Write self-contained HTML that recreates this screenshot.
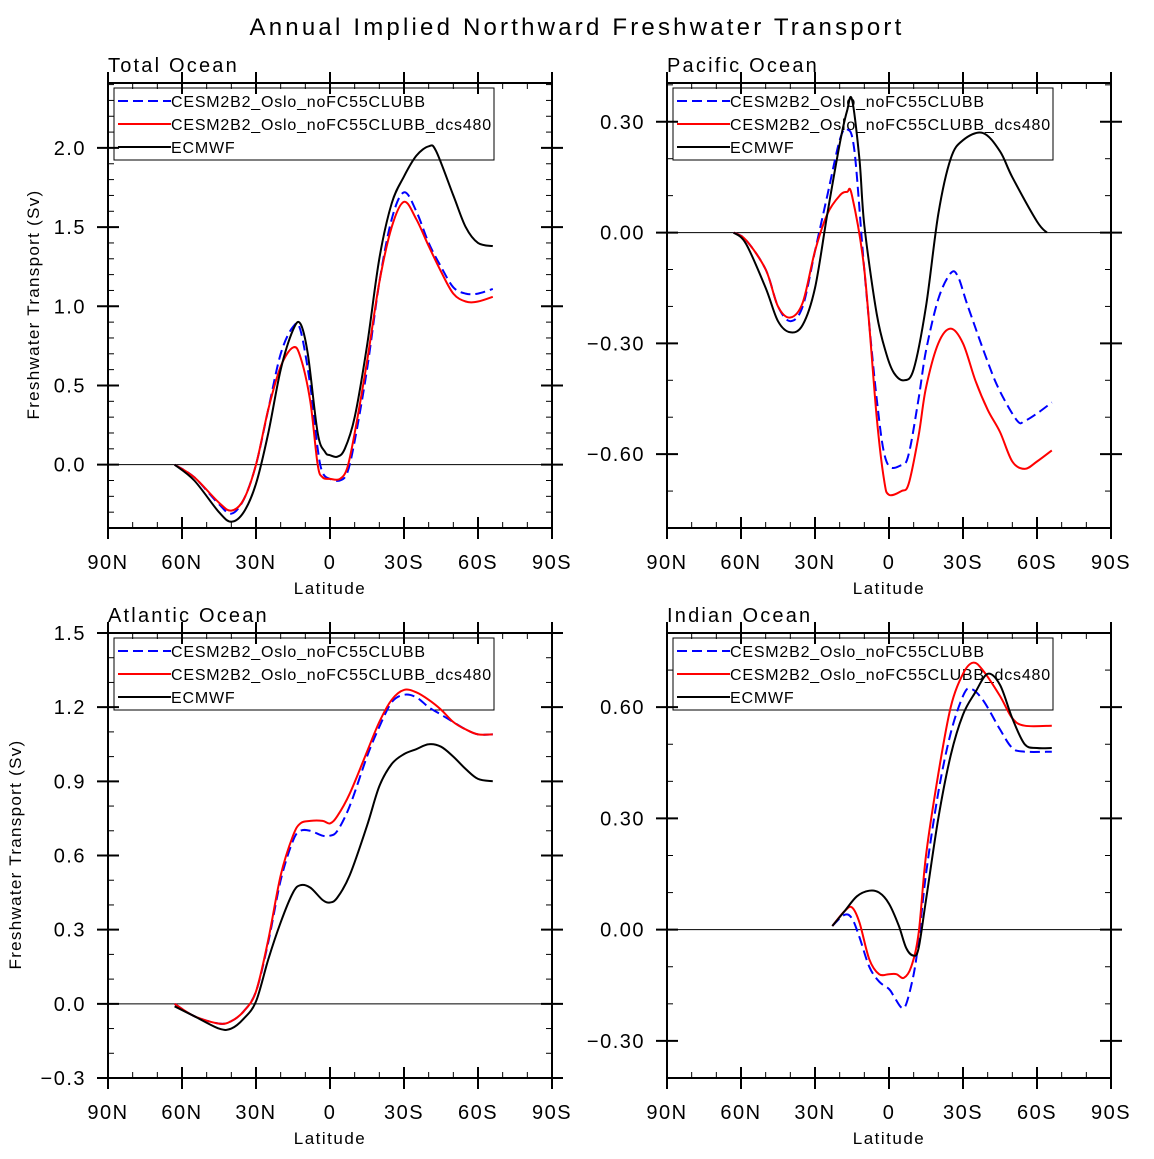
<!DOCTYPE html>
<html><head><meta charset="utf-8"><style>
body{margin:0;background:#fff;}
svg text{font-family:"Liberation Sans",sans-serif;fill:#000;}
</style></head><body>
<svg id="fig" width="1154" height="1154" viewBox="0 0 1154 1154" xmlns="http://www.w3.org/2000/svg">
<rect width="1154" height="1154" fill="#fff"/>
<text x="577" y="35" font-size="24" text-anchor="middle" letter-spacing="3.2">Annual Implied Northward Freshwater Transport</text>
</svg>
<script>
const seriesNames=["CESM2B2_Oslo_noFC55CLUBB","CESM2B2_Oslo_noFC55CLUBB_dcs480","ECMWF"];
const xTickLats=[90,60,30,0,-30,-60,-90];
const xTickLabels=["90N","60N","30N","0","30S","60S","90S"];

const totLatB=[63,55,45,40,35,30,25,20,15,12,8,5,3,0,-4,-7,-10,-15,-20,-25,-30,-35,-40,-45,-50,-55,-60,-66];
const totB=[0,-0.08,-0.25,-0.31,-0.22,0,0.35,0.7,0.87,0.85,0.5,0.1,-0.05,-0.09,-0.1,-0.05,0.15,0.6,1.15,1.55,1.72,1.6,1.4,1.25,1.12,1.08,1.08,1.11];
const totR=[0,-0.08,-0.24,-0.29,-0.22,0,0.35,0.62,0.74,0.68,0.4,0.0,-0.08,-0.09,-0.09,-0.02,0.2,0.65,1.15,1.5,1.66,1.55,1.38,1.22,1.08,1.03,1.03,1.06];
const totLatK=[63,55,45,40,35,30,25,20,15,12,9,5,2,0,-3,-6,-10,-15,-20,-25,-30,-35,-40,-43,-50,-55,-60,-66];
const totK=[0,-0.1,-0.3,-0.36,-0.3,-0.12,0.2,0.6,0.85,0.89,0.7,0.2,0.08,0.06,0.05,0.1,0.3,0.75,1.3,1.65,1.82,1.95,2.01,1.98,1.7,1.5,1.4,1.38];

const pacLatB=[63,58,50,45,40,35,30,25,20,17,14,10,5,1,-5,-8,-12,-15,-20,-25,-28,-32,-40,-45,-52,-55,-60,-66];
const pacB=[0,-0.02,-0.1,-0.2,-0.24,-0.2,-0.05,0.1,0.25,0.28,0.22,-0.1,-0.45,-0.62,-0.63,-0.6,-0.45,-0.32,-0.18,-0.11,-0.12,-0.2,-0.35,-0.43,-0.51,-0.51,-0.49,-0.46];
const pacLatR=[63,58,50,45,40,35,30,25,20,17,15,10,5,2,0,-5,-8,-12,-15,-20,-25,-30,-35,-40,-45,-50,-55,-60,-66];
const pacR=[0,-0.02,-0.1,-0.2,-0.23,-0.19,-0.05,0.05,0.1,0.11,0.1,-0.1,-0.5,-0.67,-0.71,-0.7,-0.68,-0.55,-0.42,-0.3,-0.26,-0.3,-0.4,-0.48,-0.54,-0.62,-0.64,-0.62,-0.59];
const pacLatK=[63,58,50,45,40,35,30,25,20,17,15,12,10,5,1,-2,-6,-10,-15,-20,-25,-30,-38,-45,-50,-60,-64];
const pacK=[0,-0.03,-0.15,-0.24,-0.27,-0.25,-0.15,0.05,0.24,0.33,0.36,0.2,0.02,-0.22,-0.33,-0.38,-0.4,-0.37,-0.2,0.05,0.2,0.25,0.27,0.22,0.15,0.03,0.0];

const atlLat=[63,55,45,40,35,30,25,20,15,12,8,3,0,-3,-8,-15,-20,-25,-30,-35,-40,-45,-50,-55,-60,-66];
const atlB=[0,-0.05,-0.08,-0.07,-0.03,0.05,0.25,0.5,0.66,0.7,0.7,0.68,0.68,0.7,0.8,1.0,1.12,1.22,1.25,1.24,1.2,1.17,1.14,1.11,1.09,1.09];
const atlR=[0,-0.05,-0.08,-0.07,-0.03,0.05,0.26,0.52,0.68,0.73,0.74,0.74,0.73,0.76,0.85,1.02,1.14,1.23,1.27,1.26,1.23,1.19,1.14,1.11,1.09,1.09];
const atlK=[-0.01,-0.05,-0.1,-0.1,-0.06,0.01,0.18,0.33,0.45,0.48,0.47,0.42,0.41,0.43,0.52,0.72,0.88,0.97,1.01,1.03,1.05,1.04,1.0,0.95,0.91,0.9];

const indLatB=[23,18,15,12,8,4,0,-2,-5,-7,-10,-12,-15,-20,-25,-30,-33,-38,-45,-50,-55,-66];
const indB=[0.01,0.04,0.03,-0.02,-0.1,-0.14,-0.16,-0.18,-0.21,-0.2,-0.12,-0.03,0.15,0.37,0.53,0.63,0.65,0.62,0.54,0.49,0.48,0.48];
const indLatR=[23,18,15,12,8,4,0,-3,-6,-9,-12,-15,-20,-25,-30,-34,-38,-45,-50,-55,-66];
const indR=[0.01,0.05,0.06,0.02,-0.08,-0.12,-0.12,-0.12,-0.13,-0.1,-0.01,0.2,0.42,0.6,0.69,0.72,0.7,0.63,0.57,0.55,0.55];
const indLatK=[23,18,13,8,4,0,-4,-7,-10,-12,-15,-20,-25,-30,-35,-40,-45,-50,-55,-60,-66];
const indK=[0.01,0.05,0.09,0.105,0.1,0.07,0.01,-0.05,-0.07,-0.05,0.08,0.3,0.47,0.58,0.64,0.69,0.66,0.57,0.5,0.49,0.49];

const totYTicks=[0,0.5,1.0,1.5,2.0];
const totYLabels=["0.0","0.5","1.0","1.5","2.0"];
const pacYTicks=[-0.6,-0.3,0,0.3];
const pacYLabels=["\u22120.60","\u22120.30","0.00","0.30"];
const atlYTicks=[-0.3,0,0.3,0.6,0.9,1.2,1.5];
const atlYLabels=["\u22120.3","0.0","0.3","0.6","0.9","1.2","1.5"];
const indYTicks=[-0.3,0,0.3,0.6];
const indYLabels=["\u22120.30","0.00","0.30","0.60"];

const NS="http://www.w3.org/2000/svg";
const svg=document.getElementById('fig');
function mk(tag,attrs,parent,txt){const e=document.createElementNS(NS,tag);for(const k in attrs)e.setAttribute(k,attrs[k]);if(txt!==undefined)e.textContent=txt;parent.appendChild(e);return e;}

function smoothPath(pts){
  let d="M"+pts[0][0].toFixed(1)+","+pts[0][1].toFixed(1);
  for(let i=0;i<pts.length-1;i++){
    const p0=pts[Math.max(0,i-1)],p1=pts[i],p2=pts[i+1],p3=pts[Math.min(pts.length-1,i+2)];
    const c1=[p1[0]+(p2[0]-p0[0])/6,p1[1]+(p2[1]-p0[1])/6];
    const c2=[p2[0]-(p3[0]-p1[0])/6,p2[1]-(p3[1]-p1[1])/6];
    d+="C"+c1[0].toFixed(1)+","+c1[1].toFixed(1)+" "+c2[0].toFixed(1)+","+c2[1].toFixed(1)+" "+p2[0].toFixed(1)+","+p2[1].toFixed(1);
  }
  return d;
}

function panel(cfg){
  const g=mk('g',{},svg);
  
  
  const L=cfg.x0,R=cfg.x0+444,T=83+cfg.dy,B=528+cfg.dy;
  const xs=lat=>L+(90-lat)*444/180;
  const ys=v=>B-(v-cfg.ymin)*(B-T)/(cfg.ymax-cfg.ymin);
  for(let v=Math.ceil(cfg.ymin/cfg.minor-1e-6)*cfg.minor;v<=cfg.ymax+1e-9;v+=cfg.minor){
    const y=ys(v);if(y<T-0.5||y>B+0.5)continue;
    const t1=mk('line',{x1:L,x2:L+6,y1:y,y2:y,stroke:'#000','stroke-width':1},g);
    
    mk('line',{x1:R-6,x2:R,y1:y,y2:y,stroke:'#000','stroke-width':1},g);
  }
  cfg.yt.forEach((v,i)=>{
    const y=ys(v);
    mk('line',{x1:L-11,x2:L+11,y1:y,y2:y,stroke:'#000','stroke-width':2},g);
    mk('line',{x1:R-11,x2:R+11,y1:y,y2:y,stroke:'#000','stroke-width':2},g);
    const t=mk('text',{x:L-22,y:y+7,'font-size':20,'text-anchor':'end','letter-spacing':1.5},g,cfg.yl[i]);
    
  });
  for(let lat=90;lat>=-90;lat-=10){
    const x=xs(lat);const major=lat%30===0;
    if(major){
      mk('line',{x1:x,x2:x,y1:B-11,y2:B+11,stroke:'#000','stroke-width':2},g);
      mk('line',{x1:x,x2:x,y1:T-11,y2:T+11,stroke:'#000','stroke-width':2},g);
    }else{
      mk('line',{x1:x,x2:x,y1:B-6,y2:B,stroke:'#000','stroke-width':1},g);
      mk('line',{x1:x,x2:x,y1:T,y2:T+6,stroke:'#000','stroke-width':1},g);
    }
  }
  xTickLats.forEach((lat,i)=>{
    const t=mk('text',{x:xs(lat),y:B+41,'font-size':20,'text-anchor':'middle','letter-spacing':1.5},g,xTickLabels[i]);
    
  });
  const xl=mk('text',{x:(L+R)/2,y:B+66,'font-size':17,'text-anchor':'middle','letter-spacing':1.5},g,'Latitude');
  
  const tt=mk('text',{x:L,y:T-11,'font-size':20,'letter-spacing':2.2},g,cfg.title);
  
  if(cfg.ylab){
    const yl=mk('text',{x:0,y:0,'font-size':17,'text-anchor':'middle','letter-spacing':1.3,transform:'translate('+cfg.ylabX+','+((T+B)/2-1)+') rotate(-90)'},g,'Freshwater Transport (Sv)');
    
  }
  const zl=mk('line',{x1:L,x2:R,y1:ys(0),y2:ys(0),stroke:'#000','stroke-width':1},g);
  
  const cols=['#0000ff','#ff0000','#000000'];
  const lg=mk('g',{},g);
  
  mk('rect',{x:L+6,y:T+5,width:380,height:72,fill:'none',stroke:'#000','stroke-width':1},lg);
  seriesNames.forEach((n,i)=>{
    const y=T+18+i*23;
    mk('line',{x1:L+10,x2:L+63,y1:y,y2:y,stroke:cols[i],'stroke-width':2,'stroke-dasharray':i===0?'10,5':'none'},lg);
    const t=mk('text',{x:L+63,y:y+6,'font-size':16,'letter-spacing':0.8},lg,n);
    
  });
  cfg.series.forEach((s,i)=>{
    const pts=s.lat.map((la,j)=>[xs(la),ys(s.v[j])]);
    const p=mk('path',{d:smoothPath(pts),fill:'none',stroke:cols[i],'stroke-width':2,'stroke-dasharray':i===0?'10,5':'none'},g);
    
    
  });
  const frame=mk('rect',{x:L,y:T,width:R-L,height:B-T,fill:'none',stroke:'#000','stroke-width':2},g);
  
}

panel({name:'total-ocean-panel',title:'Total Ocean',x0:108,dy:0,ymin:-0.4,ymax:2.41,minor:0.1,yt:totYTicks,yl:totYLabels,ylab:true,ylabX:39,
 series:[{lat:totLatB,v:totB},{lat:totLatB,v:totR},{lat:totLatK,v:totK}]});
panel({name:'pacific-ocean-panel',title:'Pacific Ocean',x0:667,dy:0,ymin:-0.8,ymax:0.405,minor:0.1,yt:pacYTicks,yl:pacYLabels,ylab:false,
 series:[{lat:pacLatB,v:pacB},{lat:pacLatR,v:pacR},{lat:pacLatK,v:pacK}]});
panel({name:'atlantic-ocean-panel',title:'Atlantic Ocean',x0:108,dy:550,ymin:-0.3,ymax:1.5,minor:0.1,yt:atlYTicks,yl:atlYLabels,ylab:true,ylabX:21,
 series:[{lat:atlLat,v:atlB},{lat:atlLat,v:atlR},{lat:atlLat,v:atlK}]});
panel({name:'indian-ocean-panel',title:'Indian Ocean',x0:667,dy:550,ymin:-0.4,ymax:0.8,minor:0.1,yt:indYTicks,yl:indYLabels,ylab:false,
 series:[{lat:indLatB,v:indB},{lat:indLatR,v:indR},{lat:indLatK,v:indK}]});
</script>
</body></html>
